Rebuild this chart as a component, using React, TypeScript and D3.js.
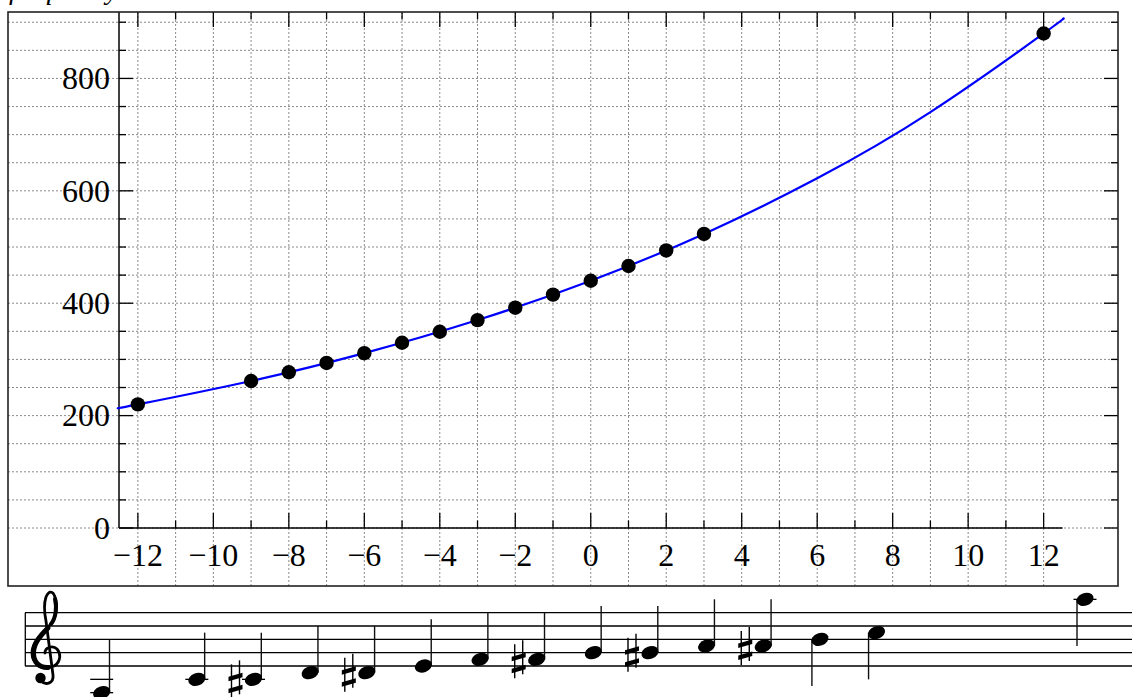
import * as d3 from "d3";

// semitones from A4, measured frequencies (Hz)
const semitones = [-12, -9, -8, -7, -6, -5, -4, -3, -2, -1, 0, 1, 2, 3, 12];
const freqs = [220, 261.6, 277.2, 293.7, 311.1, 329.6, 349.2, 370.0, 392.0, 415.3, 440, 466.2, 493.9, 523.3, 880];

// blue curve at a few semitones
const curveX = [-12.5, -12, -9, -6, -3, 0, 3, 6, 9, 12, 12.5];
const curveY = [213.8, 220, 261.6, 311.1, 370, 440, 523.3, 622.3, 740, 880, 905.8];

// notes on the staff below, with their spacing slot
const noteNames = ["A3", "C4", "C#4", "D4", "D#4", "E4", "F4", "F#4", "G4", "G#4", "A4", "A#4", "B4", "C5", "A5"];
const noteSlots = [0, 1.68, 2.68, 3.68, 4.68, 5.68, 6.68, 7.68, 8.68, 9.68, 10.68, 11.68, 12.68, 13.68, 17.36];

const xTickValues = d3.range(-12, 13);
const xLabels = [-12, -10, -8, -6, -4, -2, 0, 2, 4, 6, 8, 10, 12];
const yGridValues = d3.range(0, 901, 50);
const yLabels = [0, 200, 400, 600, 800];

const W = 1132;
const H = 697;
const frame = { left: 8, top: 12, right: 1118, bottom: 586 };
const axisLeft = 119;
const axisBottom = 528;
const font = "'Liberation Serif', 'DejaVu Serif', serif";

const x = d3.scaleLinear().domain([-12.5, 12.5]).range([axisLeft, 1062.5]);
const y = d3.scaleLinear().domain([0, 920]).range([axisBottom, 11]);

// staff geometry
const staffBottom = 666;
const stepH = 6.667;
const staffY = (step: number) => staffBottom - step * stepH;
const noteX = d3.scaleLinear().domain([0, 17.36]).range([101.7, 1085]);

function noteStep(name: string) {
  const letter = name[0];
  const octave = +name[name.length - 1];
  return octave * 7 + "CDEFGAB".indexOf(letter) - (4 * 7 + 2);
}

function Sharp({ cx, cy }: { cx: number; cy: number }) {
  const bar = (oy: number) =>
    `M${cx - 7},${cy + oy + 2} L${cx + 7},${cy + oy - 2} L${cx + 7},${cy + oy - 6.5} L${cx - 7},${cy + oy - 2.5} Z`;
  return (
    <g>
      <line x1={cx - 4} x2={cx - 4} y1={cy - 15} y2={cy + 19} stroke="#000" strokeWidth={1.4} />
      <line x1={cx + 4} x2={cx + 4} y1={cy - 19} y2={cy + 15} stroke="#000" strokeWidth={1.4} />
      <path d={bar(0)} fill="#000" />
      <path d={bar(12)} fill="#000" />
    </g>
  );
}

function Clef() {
  return (
    <g transform="translate(31,591)" fill="none" stroke="#000" strokeLinecap="round">
      <path
        d="M14,62 C14,56 22,54 26,58 C31,64 29,74 20,76 C10,78 1,72 1,62 C1,50 12,42 19,34 C26,26 27,14 24,6 C22,0 18,-1 15,6 C13,12 13,20 15,30 L22,84 C23,92 15,95 10,90"
        strokeWidth={2.8}
      />
      <path d="M17,76.5 C8,77 2.5,71 2.5,62 C2.5,52 10,44 17,37" strokeWidth={5} />
      <path d="M20,33 C25,27 26,16 24,8" strokeWidth={4} />
      <circle cx={9.5} cy={87} r={5.2} fill="#000" stroke="none" />
    </g>
  );
}

export default function App() {
  const line = d3
    .line<number>()
    .x((_, i) => x(curveX[i]))
    .y((d) => y(d))
    .curve(d3.curveNatural);

  const grid = "#8a8a8a";

  return (
    <svg
      width={W}
      height={H}
      style={{ position: "absolute", left: 0, top: 0, background: "#fff" }}
      fontFamily={font}
    >
      <text x={9} y={-1} fontSize={28} fontStyle="italic">
        frequency in Hz
      </text>

      {/* grid */}
      {yGridValues.map((v) => (
        <line key={"hg" + v} x1={frame.left} x2={frame.right} y1={y(v)} y2={y(v)} stroke={grid} strokeWidth={1} strokeDasharray="2,2" />
      ))}
      {xTickValues.map((v) => (
        <line key={"vg" + v} x1={x(v)} x2={x(v)} y1={frame.top} y2={frame.bottom} stroke={grid} strokeWidth={1} strokeDasharray="2,2" />
      ))}

      {/* axes */}
      <line x1={axisLeft} x2={x(12.5)} y1={axisBottom} y2={axisBottom} stroke="#000" strokeWidth={1.5} />
      <line x1={axisLeft} x2={axisLeft} y1={frame.top} y2={axisBottom} stroke="#000" strokeWidth={1.5} />

      {xTickValues.map((v) => {
        const len = v % 2 === 0 ? 15 : 7.5;
        return (
          <g key={"xt" + v}>
            <line x1={x(v)} x2={x(v)} y1={axisBottom} y2={axisBottom - len} stroke="#000" strokeWidth={1.3} />
            <line x1={x(v)} x2={x(v)} y1={frame.top} y2={frame.top + len} stroke="#000" strokeWidth={1.3} />
          </g>
        );
      })}
      {yGridValues.map((v) => {
        const len = v % 200 === 0 ? 14 : 7;
        return (
          <g key={"yt" + v}>
            <line x1={axisLeft} x2={axisLeft + len} y1={y(v)} y2={y(v)} stroke="#000" strokeWidth={1.3} />
            <line x1={frame.right} x2={frame.right - len} y1={y(v)} y2={y(v)} stroke="#000" strokeWidth={1.3} />
          </g>
        );
      })}

      {xLabels.map((v) => (
        <text key={"xl" + v} x={x(v)} y={566} fontSize={32} textAnchor="middle">
          {v < 0 ? "\u2212" + Math.abs(v) : String(v)}
        </text>
      ))}
      {yLabels.map((v) => (
        <text key={"yl" + v} x={110} y={y(v)} dy="0.34em" fontSize={32} textAnchor="end">
          {v}
        </text>
      ))}

      {/* data */}
      <path d={line(curveY) ?? ""} fill="none" stroke="#0000ff" strokeWidth={2.2} />
      {semitones.map((s, i) => (
        <circle key={"p" + s} cx={x(s)} cy={y(freqs[i])} r={7.2} fill="#000" />
      ))}

      <rect
        x={frame.left}
        y={frame.top}
        width={frame.right - frame.left}
        height={frame.bottom - frame.top}
        fill="none"
        stroke="#222"
        strokeWidth={1.6}
      />

      {/* staff */}
      {[0, 2, 4, 6, 8].map((s) => (
        <line key={"st" + s} x1={25} x2={W} y1={staffY(s)} y2={staffY(s)} stroke="#000" strokeWidth={1.3} />
      ))}
      <line x1={25.3} x2={25.3} y1={staffY(8)} y2={staffY(0)} stroke="#000" strokeWidth={1.3} />
      <Clef />

      {noteNames.map((n, i) => {
        const step = noteStep(n);
        const cx = noteX(noteSlots[i]);
        const cy = staffY(step);
        const up = step < 4;
        const stemX = up ? cx + 7.8 : cx - 8;
        const stemEnd = up ? Math.min(cy - 46.7, staffY(4)) : Math.max(cy + 46.7, staffY(4));
        const ledgers: number[] = [];
        for (let s = -2; s >= step; s -= 2) ledgers.push(s);
        for (let s = 10; s <= step; s += 2) ledgers.push(s);
        return (
          <g key={"n" + n}>
            {ledgers.map((s) => (
              <line key={s} x1={cx - 11.5} x2={cx + 11.5} y1={staffY(s)} y2={staffY(s)} stroke="#000" strokeWidth={1.3} />
            ))}
            <line x1={stemX} x2={stemX} y1={cy} y2={stemEnd} stroke="#111" strokeWidth={1.4} />
            <ellipse cx={cx} cy={cy} rx={8.8} ry={6.3} transform={`rotate(-20,${cx},${cy})`} fill="#000" />
            {n.includes("#") && <Sharp cx={cx - 18} cy={cy} />}
          </g>
        );
      })}
    </svg>
  );
}
